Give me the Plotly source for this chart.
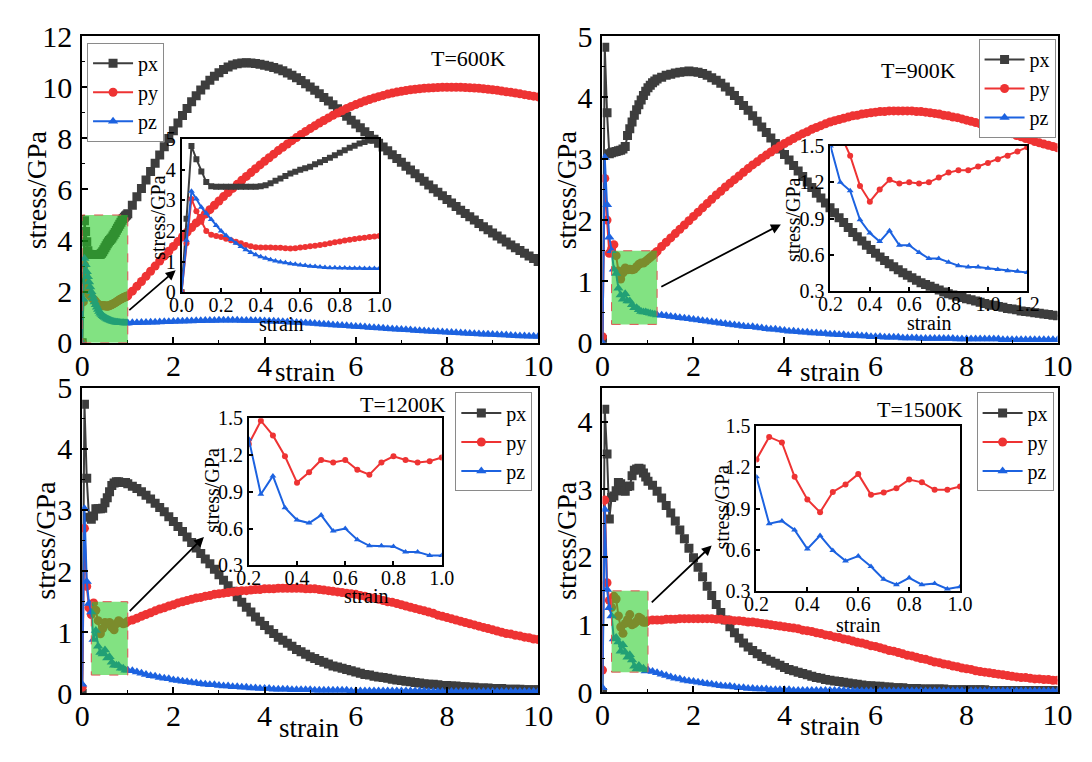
import numpy as np
import plotly.graph_objects as go

W, H = 1092, 762
FONT = "Liberation Serif"
C_PX, C_PY, C_PZ = "#3d3d3d", "#ee3333", "#1c62e0"

# ---------------- strain grids ----------------
strain_fine_600 = np.round(np.arange(0, 1.0001, 0.025), 3)     # 0 .. 1.0
strain_fine_900 = np.round(np.arange(0, 1.2001, 0.05), 3)      # 0 .. 1.2
strain_fine_hi = np.round(np.arange(0, 1.0001, 0.05), 3)       # 0 .. 1.0
strain_coarse_a = np.round(np.arange(1.1, 10.0001, 0.1), 2)    # 1.1 .. 10
strain_coarse_b = np.round(np.arange(1.3, 10.0001, 0.1), 2)    # 1.3 .. 10

# ---------------- T = 600 K ----------------
px600_fine = [0.0, 2.40, 4.78, 4.35, 3.95, 3.60, 3.46, 3.45, 3.45, 3.45,
              3.45, 3.45, 3.45, 3.45, 3.45, 3.45, 3.46, 3.50, 3.56, 3.64,
              3.72, 3.80, 3.88, 3.94, 4.00, 4.05, 4.10, 4.18, 4.25, 4.32,
              4.40, 4.48, 4.56, 4.64, 4.72, 4.79, 4.86, 4.91, 4.96, 5.00,
              5.05]
py600_fine = [0.0, 1.60, 3.05, 2.65, 2.30, 2.00, 1.88, 1.84, 1.80, 1.75,
              1.70, 1.65, 1.60, 1.54, 1.50, 1.47, 1.46, 1.46, 1.46, 1.45,
              1.45, 1.44, 1.43, 1.44, 1.46, 1.48, 1.50, 1.52, 1.54, 1.57,
              1.60, 1.63, 1.66, 1.69, 1.71, 1.74, 1.76, 1.78, 1.80, 1.82,
              1.84]
pz600_fine = [0.0, 1.70, 3.30, 3.05, 2.78, 2.58, 2.38, 2.18, 2.00, 1.85,
              1.72, 1.60, 1.49, 1.39, 1.30, 1.22, 1.16, 1.11, 1.06, 1.02,
              0.99, 0.96, 0.93, 0.91, 0.89, 0.87, 0.85, 0.84, 0.82, 0.81,
              0.80, 0.80, 0.79, 0.79, 0.78, 0.78, 0.78, 0.77, 0.77, 0.77,
              0.77]
px600_coarse = [5.38, 5.71, 6.04, 6.37, 6.70, 7.03, 7.35, 7.67, 7.99, 8.30,
                8.60, 8.89, 9.17, 9.43, 9.67, 9.89, 10.09, 10.27, 10.43, 10.57,
                10.69, 10.79, 10.87, 10.92, 10.95, 10.96, 10.95, 10.93, 10.90, 10.86,
                10.82, 10.77, 10.71, 10.64, 10.56, 10.47, 10.37, 10.26, 10.14, 10.01,
                9.88, 9.74, 9.60, 9.46, 9.31, 9.16, 9.01, 8.86, 8.71, 8.56,
                8.41, 8.26, 8.11, 7.96, 7.81, 7.66, 7.51, 7.36, 7.21, 7.06,
                6.91, 6.76, 6.61, 6.46, 6.32, 6.17, 6.03, 5.89, 5.75, 5.61,
                5.47, 5.33, 5.19, 5.06, 4.93, 4.80, 4.67, 4.54, 4.42, 4.30,
                4.18, 4.06, 3.94, 3.83, 3.72, 3.61, 3.50, 3.40, 3.30, 3.18]
py600_coarse = [2.02, 2.21, 2.40, 2.60, 2.80, 3.00, 3.20, 3.39, 3.58, 3.77,
                3.96, 4.15, 4.33, 4.51, 4.69, 4.87, 5.04, 5.21, 5.38, 5.55,
                5.72, 5.88, 6.04, 6.20, 6.36, 6.51, 6.66, 6.81, 6.96, 7.10,
                7.24, 7.38, 7.52, 7.65, 7.78, 7.91, 8.03, 8.15, 8.27, 8.38,
                8.49, 8.60, 8.70, 8.80, 8.90, 8.99, 9.08, 9.17, 9.25, 9.32,
                9.39, 9.46, 9.52, 9.58, 9.63, 9.68, 9.73, 9.77, 9.81, 9.84,
                9.87, 9.90, 9.92, 9.94, 9.96, 9.97, 9.98, 9.99, 10.00, 10.00,
                10.00, 10.00, 10.00, 9.99, 9.98, 9.97, 9.96, 9.94, 9.92, 9.90,
                9.88, 9.85, 9.82, 9.80, 9.77, 9.74, 9.71, 9.68, 9.65, 9.62]
pz600_coarse = [0.78, 0.78, 0.79, 0.79, 0.80, 0.80, 0.81, 0.82, 0.82, 0.83,
                0.84, 0.84, 0.85, 0.85, 0.86, 0.86, 0.87, 0.87, 0.87, 0.88,
                0.88, 0.88, 0.88, 0.88, 0.87, 0.87, 0.87, 0.86, 0.86, 0.85,
                0.84, 0.84, 0.83, 0.82, 0.81, 0.80, 0.79, 0.78, 0.77, 0.76,
                0.75, 0.74, 0.73, 0.72, 0.70, 0.69, 0.68, 0.67, 0.65, 0.64,
                0.63, 0.62, 0.60, 0.59, 0.58, 0.57, 0.55, 0.54, 0.53, 0.52,
                0.51, 0.50, 0.48, 0.47, 0.46, 0.45, 0.44, 0.43, 0.42, 0.41,
                0.40, 0.39, 0.38, 0.37, 0.36, 0.35, 0.34, 0.33, 0.33, 0.32,
                0.31, 0.30, 0.30, 0.29, 0.28, 0.27, 0.27, 0.26, 0.26, 0.25]

# ---------------- T = 900 K ----------------
px900_fine = [0.05, 4.82, 3.75, 3.08, 3.10, 3.11, 3.12, 3.13, 3.14, 3.16,
              3.20, 3.38, 3.49, 3.60, 3.71, 3.80, 3.88, 3.96, 4.03, 4.10,
              4.16, 4.20, 4.24, 4.27, 4.30]
py900_fine = [0.10, 2.68, 2.00, 1.46, 1.53, 1.60, 1.42, 1.17, 1.04, 1.14,
              1.22, 1.19, 1.20, 1.19, 1.20, 1.24, 1.28, 1.30, 1.30, 1.33,
              1.36, 1.39, 1.42, 1.455, 1.49]
pz900_fine = [0.00, 3.02, 2.25, 1.72, 1.50, 1.20, 1.13, 0.89, 0.78, 0.71,
              0.80, 0.68, 0.68, 0.62, 0.57, 0.57, 0.54, 0.51, 0.50, 0.50,
              0.49, 0.48, 0.47, 0.465, 0.455]
px900_coarse = [4.33, 4.36, 4.38, 4.40, 4.41, 4.42, 4.43, 4.42,
                4.41, 4.39, 4.36, 4.32, 4.28, 4.23, 4.17, 4.10, 4.03, 3.95,
                3.87, 3.79, 3.70, 3.61, 3.52, 3.43, 3.34, 3.25, 3.16, 3.07,
                2.98, 2.89, 2.80, 2.71, 2.62, 2.53, 2.44, 2.36, 2.28, 2.20,
                2.12, 2.04, 1.96, 1.88, 1.80, 1.73, 1.66, 1.59, 1.52, 1.46,
                1.40, 1.34, 1.29, 1.24, 1.19, 1.14, 1.10, 1.06, 1.02, 0.98,
                0.95, 0.92, 0.89, 0.86, 0.83, 0.80, 0.78, 0.76, 0.74, 0.72,
                0.70, 0.68, 0.66, 0.64, 0.62, 0.61, 0.59, 0.58, 0.56, 0.55,
                0.54, 0.52, 0.51, 0.50, 0.49, 0.48, 0.47, 0.46, 0.45, 0.44]
py900_coarse = [1.57, 1.64, 1.71, 1.78, 1.85, 1.92, 1.99, 2.06,
                2.13, 2.20, 2.27, 2.34, 2.41, 2.47, 2.54, 2.60, 2.66, 2.72,
                2.78, 2.84, 2.90, 2.95, 3.01, 3.06, 3.11, 3.16, 3.21, 3.25,
                3.29, 3.33, 3.37, 3.41, 3.44, 3.48, 3.51, 3.54, 3.57, 3.60,
                3.62, 3.64, 3.66, 3.68, 3.70, 3.71, 3.73, 3.74, 3.75, 3.76,
                3.77, 3.77, 3.78, 3.78, 3.78, 3.78, 3.78, 3.78, 3.77, 3.77,
                3.76, 3.75, 3.74, 3.73, 3.71, 3.70, 3.68, 3.67, 3.65, 3.63,
                3.61, 3.59, 3.57, 3.55, 3.53, 3.51, 3.48, 3.46, 3.43, 3.41,
                3.38, 3.36, 3.33, 3.31, 3.28, 3.26, 3.24, 3.22, 3.20, 3.18]
pz900_coarse = [0.45, 0.44, 0.43, 0.42, 0.41, 0.40, 0.39, 0.38,
                0.37, 0.36, 0.35, 0.34, 0.33, 0.32, 0.31, 0.30, 0.29, 0.28,
                0.27, 0.26, 0.26, 0.25, 0.24, 0.23, 0.22, 0.22, 0.21, 0.20,
                0.19, 0.19, 0.18, 0.17, 0.17, 0.16, 0.16, 0.15, 0.15, 0.14,
                0.14, 0.13, 0.13, 0.12, 0.12, 0.12, 0.11, 0.11, 0.10, 0.10,
                0.10, 0.09, 0.09, 0.09, 0.09, 0.08, 0.08, 0.08, 0.08, 0.07,
                0.07, 0.07, 0.07, 0.07, 0.07, 0.07, 0.07, 0.06, 0.06, 0.06,
                0.06, 0.06, 0.06, 0.06, 0.06, 0.06, 0.06, 0.05, 0.05, 0.05,
                0.05, 0.05, 0.05, 0.05, 0.05, 0.05, 0.05, 0.05, 0.05, 0.05]

# ---------------- T = 1200 K ----------------
px1200_fine = [0.00, 4.73, 3.52, 2.88, 2.85, 2.90, 3.02, 3.02, 3.02, 3.03,
               3.12, 3.20, 3.30, 3.40, 3.44, 3.46, 3.46, 3.45, 3.45, 3.45,
               3.43]
py1200_fine = [0.10, 2.70, 1.75, 1.40, 1.29, 1.48, 1.36, 1.19, 0.975, 1.06,
               1.16, 1.14, 1.16, 1.08, 1.04, 1.14, 1.19, 1.16, 1.14, 1.15,
               1.18]
pz1200_fine = [0.15, 3.02, 1.83, 1.47, 1.33, 0.88, 1.03, 0.77, 0.67, 0.645,
               0.71, 0.58, 0.60, 0.51, 0.46, 0.46, 0.455, 0.41, 0.41, 0.38,
               0.38]
px1200_coarse = [3.39, 3.35, 3.30, 3.24, 3.18, 3.11, 3.04, 2.97, 2.89, 2.81,
                 2.73, 2.65, 2.56, 2.47, 2.38, 2.29, 2.20, 2.12, 2.03, 1.94,
                 1.85, 1.76, 1.67, 1.58, 1.49, 1.41, 1.33, 1.25, 1.18, 1.11,
                 1.04, 0.98, 0.92, 0.87, 0.82, 0.77, 0.72, 0.68, 0.64, 0.60,
                 0.57, 0.54, 0.51, 0.48, 0.45, 0.43, 0.41, 0.39, 0.37, 0.35,
                 0.33, 0.31, 0.30, 0.28, 0.27, 0.26, 0.25, 0.23, 0.22, 0.21,
                 0.20, 0.19, 0.18, 0.17, 0.16, 0.15, 0.15, 0.14, 0.13, 0.13,
                 0.12, 0.12, 0.11, 0.11, 0.10, 0.10, 0.09, 0.09, 0.09, 0.08,
                 0.08, 0.08, 0.07, 0.07, 0.07, 0.07, 0.06, 0.06, 0.06, 0.06]
py1200_coarse = [1.20, 1.23, 1.26, 1.29, 1.32, 1.35, 1.38, 1.40, 1.43, 1.45,
                 1.48, 1.50, 1.52, 1.54, 1.56, 1.57, 1.59, 1.60, 1.62, 1.63,
                 1.64, 1.65, 1.66, 1.67, 1.68, 1.68, 1.69, 1.70, 1.70, 1.71,
                 1.71, 1.71, 1.72, 1.72, 1.72, 1.72, 1.72, 1.72, 1.71, 1.71,
                 1.71, 1.70, 1.69, 1.68, 1.67, 1.66, 1.65, 1.64, 1.63, 1.62,
                 1.60, 1.59, 1.57, 1.56, 1.54, 1.52, 1.50, 1.49, 1.47, 1.45,
                 1.43, 1.41, 1.39, 1.37, 1.35, 1.33, 1.31, 1.28, 1.26, 1.24,
                 1.22, 1.20, 1.18, 1.16, 1.14, 1.12, 1.10, 1.08, 1.06, 1.04,
                 1.02, 1.00, 0.98, 0.97, 0.95, 0.94, 0.92, 0.91, 0.89, 0.88]
pz1200_coarse = [0.37, 0.35, 0.33, 0.31, 0.29, 0.28, 0.26, 0.25, 0.24, 0.22,
                 0.21, 0.20, 0.19, 0.18, 0.17, 0.16, 0.15, 0.14, 0.14, 0.13,
                 0.12, 0.12, 0.11, 0.11, 0.10, 0.10, 0.09, 0.09, 0.08, 0.08,
                 0.08, 0.07, 0.07, 0.07, 0.07, 0.06, 0.06, 0.06, 0.06, 0.06,
                 0.05, 0.05, 0.05, 0.05, 0.05, 0.05, 0.05, 0.05, 0.04, 0.04,
                 0.04, 0.04, 0.04, 0.04, 0.04, 0.04, 0.04, 0.04, 0.04, 0.04,
                 0.04, 0.04, 0.04, 0.04, 0.04, 0.03, 0.03, 0.03, 0.03, 0.03,
                 0.03, 0.03, 0.03, 0.03, 0.03, 0.03, 0.03, 0.03, 0.03, 0.03,
                 0.03, 0.03, 0.03, 0.03, 0.03, 0.03, 0.03, 0.03, 0.03, 0.03]

# ---------------- T = 1500 K ----------------
px1500_fine = [0.00, 4.18, 3.52, 2.56, 2.88, 2.90, 2.98, 3.10, 3.08, 2.98,
               2.97, 3.04, 3.05, 3.20, 3.28, 3.30, 3.31, 3.30, 3.24, 3.18,
               3.12]
py1500_fine = [0.33, 2.84, 1.62, 1.36, 1.256, 1.42, 1.38, 1.13, 0.966, 0.873,
               1.02, 1.075, 1.15, 1.00, 1.017, 1.047, 1.11, 1.09, 1.036, 1.036,
               1.06]
pz1500_fine = [0.07, 2.70, 1.52, 1.25, 1.13, 0.79, 0.81, 0.745, 0.607, 0.704,
               0.595, 0.52, 0.555, 0.479, 0.386, 0.347, 0.397, 0.347, 0.356, 0.316,
               0.332]
px1500_coarse = [3.06, 2.97, 2.87, 2.76, 2.65, 2.53, 2.40, 2.27, 2.13, 1.99,
                 1.85, 1.71, 1.57, 1.43, 1.30, 1.18, 1.07, 0.97, 0.88, 0.80,
                 0.73, 0.67, 0.62, 0.57, 0.53, 0.49, 0.46, 0.43, 0.40, 0.37,
                 0.34, 0.32, 0.30, 0.28, 0.26, 0.24, 0.22, 0.21, 0.19, 0.18,
                 0.17, 0.16, 0.15, 0.14, 0.13, 0.12, 0.11, 0.10, 0.10, 0.09,
                 0.09, 0.08, 0.08, 0.07, 0.07, 0.07, 0.06, 0.06, 0.06, 0.05,
                 0.05, 0.05, 0.05, 0.05, 0.05, 0.04, 0.04, 0.04, 0.04, 0.04,
                 0.04, 0.04, 0.04, 0.04, 0.03, 0.03, 0.03, 0.03, 0.03, 0.03,
                 0.03, 0.03, 0.03, 0.03, 0.03, 0.03, 0.03, 0.03, 0.03, 0.03]
py1500_coarse = [1.07, 1.07, 1.07, 1.08, 1.08, 1.08, 1.09, 1.09, 1.09, 1.09,
                 1.09, 1.09, 1.09, 1.09, 1.08, 1.08, 1.07, 1.07, 1.06, 1.06,
                 1.05, 1.04, 1.04, 1.03, 1.02, 1.01, 1.00, 0.99, 0.98, 0.97,
                 0.96, 0.95, 0.94, 0.92, 0.91, 0.90, 0.88, 0.87, 0.85, 0.84,
                 0.82, 0.81, 0.79, 0.78, 0.76, 0.74, 0.73, 0.71, 0.69, 0.68,
                 0.66, 0.64, 0.62, 0.61, 0.59, 0.57, 0.55, 0.54, 0.52, 0.50,
                 0.49, 0.47, 0.45, 0.44, 0.42, 0.41, 0.39, 0.38, 0.36, 0.35,
                 0.34, 0.32, 0.31, 0.30, 0.29, 0.28, 0.27, 0.26, 0.25, 0.24,
                 0.23, 0.22, 0.22, 0.21, 0.20, 0.20, 0.19, 0.19, 0.18, 0.18]
pz1500_coarse = [0.31, 0.29, 0.27, 0.25, 0.23, 0.21, 0.20, 0.18, 0.17, 0.16,
                 0.15, 0.14, 0.13, 0.12, 0.11, 0.10, 0.09, 0.09, 0.08, 0.07,
                 0.07, 0.06, 0.06, 0.05, 0.05, 0.05, 0.04, 0.04, 0.04, 0.04,
                 0.04, 0.03, 0.03, 0.03, 0.03, 0.03, 0.03, 0.03, 0.03, 0.03,
                 0.03, 0.03, 0.03, 0.02, 0.02, 0.02, 0.02, 0.02, 0.02, 0.02,
                 0.02, 0.02, 0.02, 0.02, 0.02, 0.02, 0.02, 0.02, 0.02, 0.02,
                 0.02, 0.02, 0.02, 0.02, 0.02, 0.02, 0.02, 0.02, 0.02, 0.02,
                 0.02, 0.02, 0.02, 0.02, 0.02, 0.02, 0.02, 0.02, 0.02, 0.02,
                 0.02, 0.02, 0.02, 0.02, 0.02, 0.02, 0.02, 0.02, 0.02, 0.02]

temperatures = ["T=600K", "T=900K", "T=1200K", "T=1500K"]
series_names = ["px", "py", "pz"]

# ---------------- layout geometry (pixels, top-left origin) ----------------
panels = [
    dict(label=temperatures[0], box=(71, 20, 539, 341), yr=[0, 12], ydt=2, ymin=1,
         inset=(173, 128, 376, 288), ixr=[0, 1.0], iyr=[0, 5], iydt=1, iy0=0, iyfmt="d",
         fine=(strain_fine_600, px600_fine, py600_fine, pz600_fine),
         coarse=(strain_coarse_a, px600_coarse, py600_coarse, pz600_coarse),
         zoom=(0, 1.0, 0, 5), arrow=((1.0, 1.23), (2.05, 2.84)),
         legend=dict(x=76, y=27, xanchor="left"),
         tlab=(467, 43), ytitle=(25, 181), xtitle=(300, 372),
         iytitle=(148, 210), ixtitle=(275, 321)),
    dict(label=temperatures[1], box=(605, 20, 1072, 341), yr=[0, 5], ydt=1, ymin=0.5,
         inset=(839, 135, 1041, 287), ixr=[0.2, 1.2], iyr=[0.3, 1.5], iydt=0.3, iy0=0.3, iyfmt=".1f",
         fine=(strain_fine_900, px900_fine, py900_fine, pz900_fine),
         coarse=(strain_coarse_b, px900_coarse, py900_coarse, pz900_coarse),
         zoom=(0.2, 1.2, 0.3, 1.5), arrow=((1.26, 0.9), (3.92, 1.93)),
         legend=dict(x=1070, y=23, xanchor="right"),
         tlab=(929, 56), ytitle=(568, 181), xtitle=(838, 372),
         iytitle=(800, 212), ixtitle=(940, 320)),
    dict(label=temperatures[2], box=(71, 388, 539, 708), yr=[0, 5], ydt=1, ymin=0.5,
         inset=(242, 420, 440, 574), ixr=[0.2, 1.0], iyr=[0.3, 1.5], iydt=0.3, iy0=0.3, iyfmt=".1f",
         fine=(strain_fine_hi, px1200_fine, py1200_fine, pz1200_fine),
         coarse=(strain_coarse_a, px1200_coarse, py1200_coarse, pz1200_coarse),
         zoom=(0.2, 1.0, 0.3, 1.5), arrow=((1.01, 1.32), (2.67, 2.56)),
         legend=dict(x=533, y=393, xanchor="right"),
         tlab=(400, 406), ytitle=(33, 548), xtitle=(304, 744),
         iytitle=(204, 495), ixtitle=(362, 606)),
    dict(label=temperatures[3], box=(605, 388, 1072, 707), yr=[0, 4.5], ydt=1, ymin=0.5,
         inset=(763, 428, 972, 601), ixr=[0.2, 1.0], iyr=[0.3, 1.5], iydt=0.3, iy0=0.3, iyfmt=".1f",
         fine=(strain_fine_hi, px1500_fine, py1500_fine, pz1500_fine),
         coarse=(strain_coarse_a, px1500_coarse, py1500_coarse, pz1500_coarse),
         zoom=(0.2, 1.0, 0.3, 1.5), arrow=((1.05, 1.31), (2.40, 2.17)),
         legend=dict(x=1068, y=393, xanchor="right"),
         tlab=(931, 411), ytitle=(568, 548), xtitle=(838, 742),
         iytitle=(728, 513), ixtitle=(867, 636)),
]


def fx(px):
    return px / W


def fy(py):
    return 1 - py / H


def axis_style(domain, rng, dtick, tick0, size, lw, ticklen, minor_dtick=None,
               fmt=None, anchor=None, standoff=0):
    ax = dict(domain=domain, range=rng, dtick=dtick, tick0=tick0, showline=True,
              linewidth=lw, linecolor="black", mirror=True, ticks="inside",
              ticklen=ticklen, tickwidth=1.5, tickcolor="black", showgrid=False,
              zeroline=False, anchor=anchor, ticklabelstandoff=standoff,
              tickfont=dict(family=FONT, size=size, color="black"))
    if minor_dtick is not None:
        ax["minor"] = dict(ticks="inside", ticklen=3, tickwidth=1.2,
                           tickcolor="black", dtick=minor_dtick, tick0=0, showgrid=False)
    if fmt:
        ax["tickformat"] = fmt
    return ax


styles = [("square", C_PX), ("circle", C_PY), ("triangle-up", C_PZ)]

fig = go.Figure()
layout = dict(width=W, height=H, margin=dict(l=0, r=0, t=0, b=0),
              paper_bgcolor="white", plot_bgcolor="rgba(0,0,0,0)",
              showlegend=True, annotations=[], shapes=[])

for k, p in enumerate(panels):
    mi = k + 1          # main subplot index
    ii = k + 5          # inset subplot index
    mx = "x" if mi == 1 else f"x{mi}"
    my = "y" if mi == 1 else f"y{mi}"
    ix, iy = f"x{ii}", f"y{ii}"
    leg = "legend" if mi == 1 else f"legend{mi}"

    x0, y0, x1, y1 = p["box"]
    layout["xaxis" if mi == 1 else f"xaxis{mi}"] = axis_style(
        [fx(x0), fx(x1)], [0, 10], 2, 0, 30, 2, 6, minor_dtick=1, anchor=my, standoff=-5)
    layout["yaxis" if mi == 1 else f"yaxis{mi}"] = axis_style(
        [fy(y1), fy(y0)], p["yr"], p["ydt"], 0, 30, 2, 6, minor_dtick=p["ymin"], anchor=mx,
        standoff=2)

    a0, b0, a1, b1 = p["inset"]
    layout[f"xaxis{ii}"] = axis_style([fx(a0), fx(a1)], p["ixr"], 0.2, 0, 20, 1.8, 4,
                                      fmt=".1f", anchor=iy, standoff=-6)
    layout[f"yaxis{ii}"] = axis_style([fy(b1), fy(b0)], p["iyr"], p["iydt"], p["iy0"], 20, 1.8, 4,
                                      fmt=p["iyfmt"], anchor=ix)

    sf = p["fine"]
    sc = p["coarse"]
    for j, (sym, col) in enumerate(styles):
        xs = list(sf[0]) + list(sc[0])
        ys = list(sf[j + 1]) + list(sc[j + 1])
        fig.add_trace(go.Scatter(
            x=xs, y=ys, mode="lines+markers", name=series_names[j],
            line=dict(color=col, width=2),
            marker=dict(symbol=sym, size=9, color=col),
            xaxis=mx, yaxis=my, legend=leg, showlegend=True))
    for j, (sym, col) in enumerate(styles):
        if j == 0 and k > 0:
            continue
        fig.add_trace(go.Scatter(
            x=list(sf[0]), y=list(sf[j + 1]), mode="lines+markers",
            line=dict(color=col, width=2),
            marker=dict(symbol=sym, size=6, color=col),
            xaxis=ix, yaxis=iy, showlegend=False))

    lg = p["legend"]
    layout[leg] = dict(x=fx(lg["x"]), y=fy(lg["y"]), xanchor=lg["xanchor"], yanchor="top",
                       bgcolor="white", bordercolor="#8a8a8a", borderwidth=1,
                       font=dict(family=FONT, size=20, color="black"),
                       tracegroupgap=0, itemwidth=40, itemsizing="trace")

    zx0, zx1, zy0, zy1 = p["zoom"]
    layout["shapes"].append(dict(
        type="rect", xref=mx, yref=my, x0=zx0, x1=zx1, y0=zy0, y1=zy1,
        fillcolor="rgba(40,205,40,0.58)", line=dict(color="#e05050", width=1, dash="dash"),
        layer="above"))

    (tx, ty), (hx, hy) = p["arrow"]
    layout["annotations"].append(dict(
        x=hx, y=hy, ax=tx, ay=ty, xref=mx, yref=my, axref=mx, ayref=my,
        text="", showarrow=True, arrowhead=2, arrowsize=1.1, arrowwidth=1.8,
        arrowcolor="black", standoff=0))

    def txt(s, pos, size, angle=0):
        layout["annotations"].append(dict(
            text=s, x=fx(pos[0]), y=fy(pos[1]), xref="paper", yref="paper",
            showarrow=False, textangle=angle, xanchor="center", yanchor="middle",
            font=dict(family=FONT, size=size, color="black")))

    txt(p["label"], p["tlab"], 22)
    txt("stress/GPa", p["ytitle"], 28, -90)
    txt("strain", p["xtitle"], 27)
    txt("stress/GPa", p["iytitle"], 20, -90)
    txt("strain", p["ixtitle"], 20)

fig.update_layout(**layout)
fig.write_html("out.html")
